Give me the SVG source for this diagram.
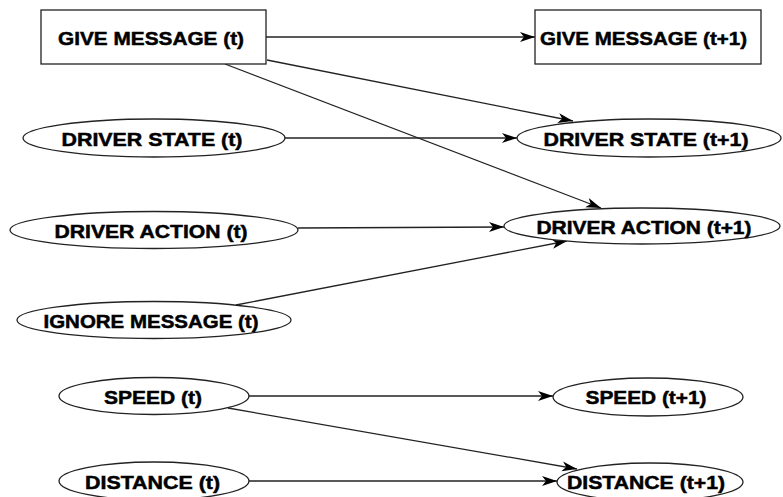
<svg xmlns="http://www.w3.org/2000/svg" width="783" height="497" viewBox="0 0 783 497">
<style>
.n{fill:#fff;stroke:#222;stroke-width:1.3}
.t{font-family:"Liberation Sans",Arial,sans-serif;font-weight:bold;font-size:19px;fill:#000;stroke:#000;stroke-width:0.5;text-anchor:middle;dominant-baseline:central}
.c{stroke:#222;stroke-width:1.3;fill:none;marker-end:url(#ah)}
</style>
<defs>
<marker id="ah" markerWidth="16" markerHeight="12" refX="15" refY="6" orient="auto" markerUnits="userSpaceOnUse">
<path d="M0,1 L15,6 L0,11 L4,6 z" fill="#000"/>
</marker>
</defs>
<rect width="783" height="497" fill="#fff"/>
<g id="connectors">
<line class="c" x1="266" y1="37" x2="535" y2="37"/>
<line class="c" x1="267" y1="60" x2="573" y2="121"/>
<line class="c" x1="225" y1="64" x2="601" y2="208"/>
<line class="c" x1="284" y1="138" x2="517" y2="138"/>
<line class="c" x1="298" y1="228" x2="504" y2="227"/>
<line class="c" x1="236" y1="305" x2="567" y2="241"/>
<line class="c" x1="248" y1="396" x2="553" y2="396"/>
<line class="c" x1="228" y1="408" x2="577" y2="469"/>
<line class="c" x1="248" y1="481" x2="557" y2="481"/>
</g>
<g id="give_t"><rect class="n" x="41" y="10" width="225" height="54"/><text class="t" x="151" y="38" textLength="186" lengthAdjust="spacingAndGlyphs">GIVE MESSAGE (t)</text></g>
<g id="give_t1"><rect class="n" x="535" y="10" width="226" height="54"/><text class="t" x="643.5" y="38" textLength="207" lengthAdjust="spacingAndGlyphs">GIVE MESSAGE (t+1)</text></g>
<g id="state_t"><ellipse class="n" cx="154" cy="138" rx="131" ry="19"/><text class="t" x="152" y="139" textLength="181" lengthAdjust="spacingAndGlyphs">DRIVER STATE (t)</text></g>
<g id="state_t1"><ellipse class="n" cx="649" cy="138" rx="132" ry="19"/><text class="t" x="646" y="139" textLength="205" lengthAdjust="spacingAndGlyphs">DRIVER STATE (t+1)</text></g>
<g id="action_t"><ellipse class="n" cx="154" cy="230" rx="144" ry="18.5"/><text class="t" x="151" y="231" textLength="193" lengthAdjust="spacingAndGlyphs">DRIVER ACTION (t)</text></g>
<g id="action_t1"><ellipse class="n" cx="642" cy="226" rx="138" ry="18"/><text class="t" x="644" y="227" textLength="215" lengthAdjust="spacingAndGlyphs">DRIVER ACTION (t+1)</text></g>
<g id="ignore_t"><ellipse class="n" cx="154" cy="320" rx="137" ry="18.5"/><text class="t" x="151" y="321" textLength="215" lengthAdjust="spacingAndGlyphs">IGNORE MESSAGE (t)</text></g>
<g id="speed_t"><ellipse class="n" cx="154" cy="396" rx="95" ry="18.5"/><text class="t" x="153" y="397" textLength="98" lengthAdjust="spacingAndGlyphs">SPEED (t)</text></g>
<g id="speed_t1"><ellipse class="n" cx="648" cy="397" rx="95" ry="19"/><text class="t" x="646" y="397" textLength="121" lengthAdjust="spacingAndGlyphs">SPEED (t+1)</text></g>
<g id="distance_t"><ellipse class="n" cx="154" cy="481" rx="95" ry="19"/><text class="t" x="152.5" y="482" textLength="135" lengthAdjust="spacingAndGlyphs">DISTANCE (t)</text></g>
<g id="distance_t1"><ellipse class="n" cx="650" cy="482" rx="93" ry="19"/><text class="t" x="646" y="482" textLength="158" lengthAdjust="spacingAndGlyphs">DISTANCE (t+1)</text></g>
</svg>
